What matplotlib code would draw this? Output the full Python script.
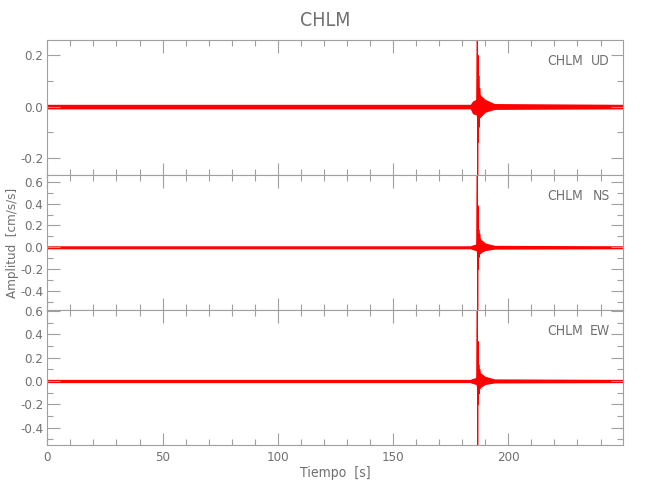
import matplotlib
matplotlib.use('Agg')
import matplotlib.pyplot as plt
from matplotlib.ticker import MultipleLocator, FormatStrFormatter

# station / components
station = "CHLM"
components = ["UD", "NS", "EW"]
t_end = 249.9

# noise envelope per component
noise_t = [0.0, 183.5, 184.5, 186.0, 186.6, 188.0, 190.0, 194.0, 249.9]
ud_noise_hi = [0.009, 0.009, 0.022, 0.028, 0.055, 0.045, 0.028, 0.012, 0.009]
ud_noise_lo = [-0.009, -0.009, -0.028, -0.032, -0.050, -0.040, -0.022, -0.011, -0.009]
ns_noise_hi = [0.014, 0.014, 0.022, 0.030, 0.130, 0.075, 0.040, 0.018, 0.014]
ns_noise_lo = [-0.014, -0.014, -0.022, -0.030, -0.075, -0.050, -0.030, -0.017, -0.014]
ew_noise_hi = [0.014, 0.014, 0.022, 0.030, 0.110, 0.070, 0.040, 0.018, 0.014]
ew_noise_lo = [-0.014, -0.014, -0.022, -0.030, -0.095, -0.055, -0.030, -0.017, -0.014]

# main arrival peaks
spike_t = [186.3, 186.55, 186.7, 186.85, 187.0, 187.2, 187.45, 187.7, 188.0, 188.4]
ud_spike = [0.0, 0.26, -0.267, 0.20, -0.14, 0.12, -0.08, 0.07, -0.04, 0.02]
ns_spike = [0.0, 0.663, -0.575, 0.38, -0.20, 0.16, -0.09, 0.12, -0.06, 0.04]
ew_spike = [0.0, 0.61, -0.55, 0.34, -0.20, 0.14, -0.11, 0.10, -0.06, 0.04]

# axis ranges
ud_ylim = (-0.267, 0.26)
ns_ylim = (-0.575, 0.663)
ew_ylim = (-0.55, 0.61)

axis_grey = '#a0a0a0'
text_grey = '#707070'

plt.rcParams['font.family'] = ['DejaVu Sans']
plt.rcParams['font.stretch'] = 'condensed'
plt.rcParams['axes.unicode_minus'] = False

fig, axes = plt.subplots(3, 1, sharex=True, figsize=(6.5, 5), dpi=100)
fig.subplots_adjust(left=0.0728, right=0.959, top=0.92, bottom=0.11, hspace=0)

traces = [
    (ud_noise_lo, ud_noise_hi, ud_spike, ud_ylim),
    (ns_noise_lo, ns_noise_hi, ns_spike, ns_ylim),
    (ew_noise_lo, ew_noise_hi, ew_spike, ew_ylim),
]

for ax, comp, (lo, hi, spike, ylim) in zip(axes, components, traces):
    ax.fill_between(noise_t, lo, hi, color='red', lw=0)
    ax.plot(spike_t, spike, color='red', lw=0.8)
    ax.set_xlim(0, t_end)
    ax.set_ylim(*ylim)

    ax.yaxis.set_major_locator(MultipleLocator(0.2))
    ax.yaxis.set_minor_locator(MultipleLocator(0.1))
    ax.yaxis.set_major_formatter(FormatStrFormatter('%.1f'))
    ax.xaxis.set_major_locator(MultipleLocator(50))
    ax.xaxis.set_minor_locator(MultipleLocator(10))

    ax.tick_params(which='both', direction='in', top=True, right=True,
                   color=axis_grey, labelcolor=text_grey, width=0.8,
                   labelsize=9.5)
    ax.tick_params(which='major', length=9, pad=3)
    ax.tick_params(which='minor', length=4.5)
    ax.tick_params(axis='x', pad=4)
    for sp in ax.spines.values():
        sp.set_color(axis_grey)
        sp.set_linewidth(0.8)

    ax.text(0.93, 0.845, station, transform=ax.transAxes, color=text_grey,
            fontsize=10, ha='right', va='center')
    ax.text(0.977, 0.845, comp, transform=ax.transAxes, color=text_grey,
            fontsize=10, ha='right', va='center')

fig.text(0.019, 0.514, "Amplitud  [cm/s/s]", color=text_grey, fontsize=9.5,
         rotation=90, ha='center', va='center')
axes[2].set_xlabel("Tiempo  [s]", color=text_grey, fontsize=10, labelpad=2)
fig.text(0.5, 0.958, station, color=text_grey, fontsize=14, ha='center', va='center')

plt.savefig('out.png', dpi=100)
plt.close()
